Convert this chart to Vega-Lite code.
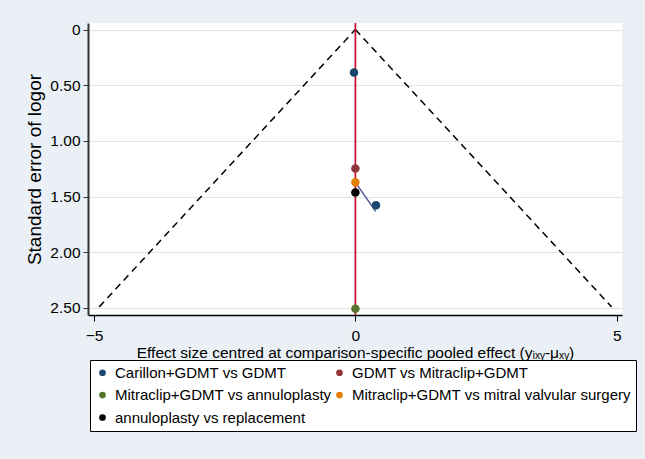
{
  "$schema": "https://vega.github.io/schema/vega-lite/v6.json",
  "width": 534,
  "height": 292,
  "autosize": {"type": "none"},
  "padding": {"left": 88, "top": 23, "right": 23, "bottom": 144},
  "background": "#eaf0f5",
  "config": {
    "view": {"fill": "white", "stroke": null},
    "font": "Liberation Sans",
    "axis": {"labelFont": "Liberation Sans", "titleFont": "Liberation Sans", "labelColor": "black", "titleColor": "black", "titleFontWeight": "normal"}
  },
  "layer": [
    {
      "data": {"values": [
        {"side": "left", "x": 0, "se": 0},
        {"side": "left", "x": -4.9, "se": 2.49},
        {"side": "right", "x": 0, "se": 0},
        {"side": "right", "x": 4.9, "se": 2.49}
      ]},
      "mark": {"type": "line", "color": "black", "strokeDash": [7, 5], "strokeWidth": 1.5},
      "encoding": {
        "x": {"field": "x", "type": "quantitative",
              "scale": {"domain": [-5.115, 5.1], "nice": false, "zero": false},
              "axis": {"values": [-5, 0, 5], "grid": false, "title": "Effect size centred at comparison-specific pooled effect (yᵢₓᵧ-μₓᵧ)",
                       "labelFontSize": 15.5, "titleFontSize": 15.5, "domainColor": "black", "domainWidth": 1.5,
                       "tickColor": "black", "tickSize": 6, "labelPadding": 7, "titlePadding": 2}},
        "y": {"field": "se", "type": "quantitative",
              "scale": {"domain": [-0.059, 2.563], "reverse": true, "nice": false, "zero": false},
              "axis": {"values": [0, 0.5, 1, 1.5, 2, 2.5], "labelExpr": "datum.value == 0 ? '0' : format(datum.value, '.2f')",
                       "grid": true, "gridColor": "#e4e4e4", "gridWidth": 1,
                       "title": "Standard error of logor", "titleFontSize": 19, "labelFontSize": 15.5,
                       "domainColor": "#333333", "domainWidth": 2, "tickColor": "#333333", "tickSize": 5, "labelPadding": 3, "titlePadding": 5}},
        "detail": {"field": "side"}
      }
    },
    {
      "data": {"values": [{"x": 0}]},
      "mark": {"type": "rule", "color": "#c8102e", "strokeWidth": 1.7},
      "encoding": {"x": {"field": "x", "type": "quantitative"}}
    },
    {
      "data": {"values": [
        {"x": 0.006, "se": 1.377},
        {"x": 0.388, "se": 1.632}
      ]},
      "mark": {"type": "line", "color": "#54589a", "strokeWidth": 1.5},
      "encoding": {
        "x": {"field": "x", "type": "quantitative"},
        "y": {"field": "se", "type": "quantitative"}
      }
    },
    {
      "data": {"values": [
        {"comparison": "Carillon+GDMT vs GDMT", "x": -0.027, "se": 0.386},
        {"comparison": "Carillon+GDMT vs GDMT", "x": 0.394, "se": 1.578},
        {"comparison": "GDMT vs Mitraclip+GDMT", "x": 0, "se": 1.248},
        {"comparison": "Mitraclip+GDMT vs annuloplasty", "x": 0, "se": 2.507},
        {"comparison": "Mitraclip+GDMT vs mitral valvular surgery", "x": 0, "se": 1.372},
        {"comparison": "annuloplasty vs replacement", "x": 0, "se": 1.462}
      ]},
      "mark": {"type": "point", "filled": true, "shape": "circle", "size": 72, "opacity": 1},
      "encoding": {
        "x": {"field": "x", "type": "quantitative"},
        "y": {"field": "se", "type": "quantitative"},
        "color": {"field": "comparison", "type": "nominal",
                  "scale": {"domain": ["Carillon+GDMT vs GDMT", "GDMT vs Mitraclip+GDMT", "Mitraclip+GDMT vs annuloplasty", "Mitraclip+GDMT vs mitral valvular surgery", "annuloplasty vs replacement"],
                            "range": ["#1a476f", "#90353b", "#55752f", "#e37e00", "#000000"]},
                  "legend": {"title": null, "orient": "none", "legendX": 2, "legendY": 337, "columns": 2,
                             "direction": "horizontal",
                             "symbolType": "circle", "symbolSize": 45, "symbolStrokeWidth": 0,
                             "labelFontSize": 15, "labelFont": "Liberation Sans", "labelColor": "black", "labelOffset": 5,
                             "rowPadding": 6.5, "columnPadding": 0, "padding": 5,
                             "strokeColor": "black", "fillColor": "white", "labelLimit": 400}}
      }
    }
  ]
}
